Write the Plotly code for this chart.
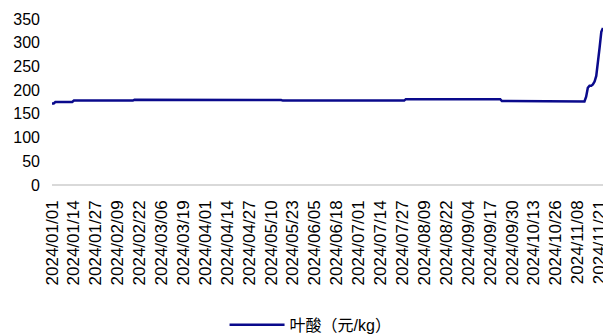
import pandas as pd
import plotly.graph_objects as go

# Folic acid price (yuan/kg): dates on which the quoted price changed, and the new price
change_dates = [
    "2024-01-01", "2024-01-03", "2024-01-14", "2024-02-19", "2024-04-07",
    "2024-05-17", "2024-07-29", "2024-09-24", "2024-10-11",
    "2024-11-13", "2024-11-14", "2024-11-15", "2024-11-17", "2024-11-18",
    "2024-11-19", "2024-11-20", "2024-11-21", "2024-11-22", "2024-11-23",
]
change_values = [
    172, 175, 178, 180, 179,
    178, 181, 177, 176,
    186, 205, 209, 212, 218,
    230, 255, 290, 323, 331,
]

series_name = "叶酸（元/kg）"
start_date = "2024-01-01"
end_date = "2024-11-23"

# Daily series: each quote holds until the next change
s = pd.Series(change_values, index=pd.to_datetime(change_dates))
daily = s.reindex(pd.date_range(start_date, end_date, freq="D")).ffill()

fig = go.Figure()
fig.add_trace(go.Scatter(
    x=daily.index, y=daily.values, mode="lines", name=series_name,
    line=dict(color="#0a0a8c", width=2.5),
))

fig.update_layout(
    width=603, height=335,
    margin=dict(l=52, r=0, t=19, b=150),
    paper_bgcolor="white", plot_bgcolor="white",
    font=dict(family="Liberation Sans, Arial, sans-serif", color="#000000"),
    showlegend=True,
    legend=dict(
        orientation="h", xref="container", yref="container",
        x=0.515, xanchor="center", y=0.03, yanchor="middle",
        font=dict(size=16, family="Liberation Sans, Noto Sans CJK SC, sans-serif"),
        itemwidth=55,
    ),
    xaxis=dict(
        type="date",
        range=[start_date, end_date],
        tick0=start_date, dtick=13 * 86400000,
        tickformat="%Y/%m/%d", tickangle=-90,
        tickfont=dict(size=17),
        ticklabeloverflow="allow",
        ticklabelstandoff=11,
        automargin=False,
        showgrid=False, zeroline=False,
        showline=False, ticks="",
    ),
    yaxis=dict(
        range=[0, 350], dtick=50,
        tickfont=dict(size=16),
        showgrid=False, zeroline=True, zerolinecolor="#d9d9d9", zerolinewidth=1.5,
        showline=False, ticks="",
        ticklabelstandoff=11,
        automargin=False,
    ),
)

fig.write_html("out.html")
